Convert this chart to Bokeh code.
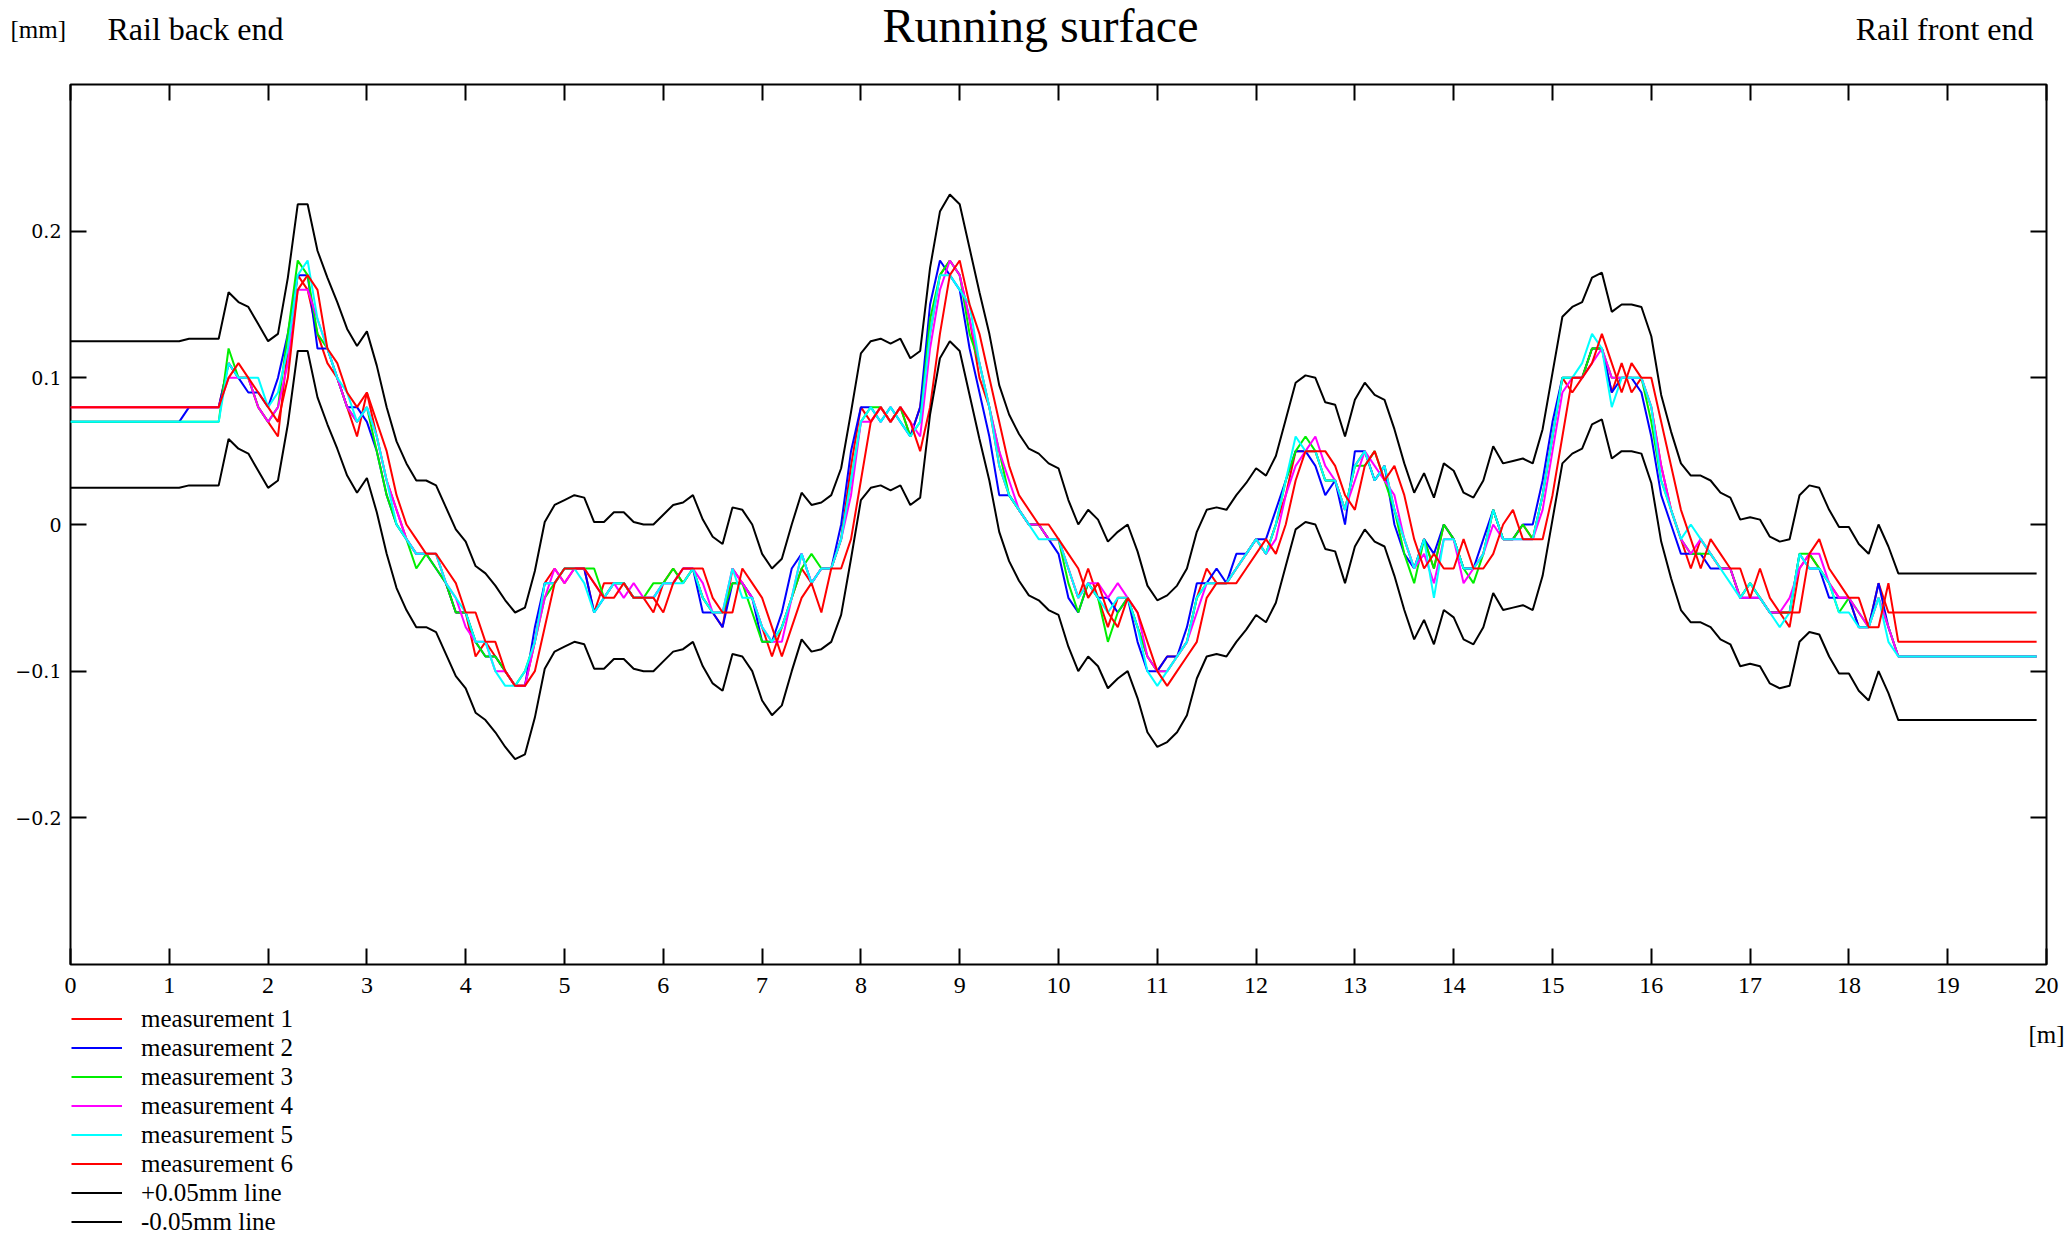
import numpy as np
from bokeh.plotting import figure
from bokeh.layouts import column, row
from bokeh.models import (Range1d, FixedTicker, LinearAxis, Label, Legend,
                          LegendItem, CustomJSTickFormatter)
from bokeh.embed import file_html
from bokeh.resources import INLINE

# positions along the rail [m]
positions_m = [round(i * 0.1, 1) for i in range(186)] + [19.9]

# measured heights in hundredths of a millimetre
meas1 = [8, 8, 8, 8, 8, 8, 8, 8, 8, 8,
         8, 8, 8, 8, 8, 8, 11, 10, 10, 8,
         7, 6, 12, 17, 16, 13, 11, 10, 8, 6,
         9, 6, 3, 1, -1, -2, -2, -2, -4, -6,
         -6, -9, -8, -9, -10, -11, -11, -8, -4, -3,
         -4, -3, -3, -6, -4, -4, -4, -5, -5, -6,
         -4, -3, -4, -3, -5, -6, -7, -3, -4, -5,
         -7, -9, -7, -5, -3, -4, -3, -3, -1, 4,
         8, 7, 8, 7, 8, 6, 8, 13, 17, 18,
         17, 14, 10, 8, 4, 2, 1, 0, 0, -1,
         -1, -3, -5, -3, -5, -7, -5, -5, -7, -9,
         -10, -9, -9, -8, -5, -3, -4, -4, -3, -2,
         -1, -2, 0, 2, 5, 5, 5, 3, 3, 1,
         4, 5, 3, 4, 1, -1, -3, -1, -3, 0,
         -1, -3, -3, -2, 1, -1, -1, 0, -1, 2,
         6, 10, 9, 10, 12, 12, 9, 11, 9, 10,
         8, 4, 1, -1, -3, -1, -2, -3, -3, -5,
         -4, -5, -6, -6, -7, -3, -2, -3, -4, -5,
         -5, -7, -7, -4, -6, -6,
         -6]

meas2 = [7, 7, 7, 7, 7, 7, 7, 7, 7, 7,
         7, 7, 8, 8, 8, 8, 11, 10, 9, 9,
         8, 10, 13, 17, 17, 12, 12, 10, 8, 8,
         7, 5, 2, 0, -1, -2, -2, -3, -4, -6,
         -6, -8, -9, -9, -10, -11, -11, -7, -4, -4,
         -3, -3, -3, -6, -5, -4, -4, -5, -5, -5,
         -4, -4, -3, -3, -6, -6, -7, -4, -4, -5,
         -8, -8, -6, -3, -2, -4, -3, -3, 0, 5,
         8, 8, 7, 8, 7, 6, 8, 15, 18, 17,
         16, 12, 9, 6, 2, 2, 1, 0, 0, -1,
         -2, -5, -6, -4, -5, -5, -6, -5, -8, -10,
         -10, -9, -9, -7, -4, -4, -3, -4, -2, -2,
         -1, -1, 1, 3, 5, 5, 4, 2, 3, 0,
         5, 5, 3, 4, 0, -2, -3, -1, -2, 0,
         -1, -3, -3, -1, 1, -1, -1, 0, 0, 3,
         7, 10, 10, 10, 12, 12, 9, 10, 10, 9,
         6, 2, 0, -2, -2, -2, -3, -3, -3, -5,
         -5, -5, -6, -6, -6, -2, -3, -3, -5, -5,
         -5, -7, -7, -4, -7, -9,
         -9]

meas3 = [7, 7, 7, 7, 7, 7, 7, 7, 7, 7,
         7, 7, 7, 7, 7, 7, 12, 10, 10, 8,
         7, 8, 13, 18, 17, 13, 12, 10, 8, 7,
         8, 5, 2, 0, -1, -3, -2, -3, -4, -6,
         -6, -8, -9, -9, -10, -11, -10, -8, -5, -4,
         -3, -3, -3, -3, -5, -4, -4, -5, -5, -4,
         -4, -3, -4, -3, -5, -6, -6, -4, -4, -6,
         -8, -8, -7, -5, -3, -2, -3, -3, -1, 3,
         7, 8, 8, 7, 8, 6, 7, 14, 17, 18,
         17, 13, 11, 8, 5, 2, 1, 0, 0, -1,
         -1, -4, -6, -4, -5, -8, -6, -5, -7, -9,
         -10, -10, -9, -8, -5, -4, -4, -4, -3, -2,
         -1, -2, 0, 3, 5, 6, 5, 3, 3, 1,
         4, 4, 5, 3, 1, -2, -4, -1, -3, 0,
         -1, -3, -4, -2, 1, -1, -1, 0, -1, 2,
         6, 10, 10, 10, 12, 12, 10, 10, 10, 10,
         7, 3, 1, -1, -2, -2, -2, -3, -3, -5,
         -4, -5, -6, -6, -6, -2, -2, -3, -4, -6,
         -5, -6, -7, -5, -7, -9,
         -9]

meas4 = [8, 8, 8, 8, 8, 8, 8, 8, 8, 8,
         8, 8, 8, 8, 8, 8, 10, 10, 10, 8,
         7, 8, 11, 16, 16, 14, 12, 10, 8, 7,
         8, 6, 3, 1, -1, -2, -2, -2, -4, -5,
         -7, -8, -8, -10, -10, -11, -11, -8, -5, -3,
         -4, -3, -3, -4, -5, -4, -5, -4, -5, -5,
         -4, -4, -3, -3, -4, -6, -6, -3, -4, -5,
         -7, -8, -8, -5, -2, -4, -3, -3, -1, 2,
         7, 7, 8, 7, 8, 7, 6, 12, 16, 18,
         17, 14, 11, 8, 5, 3, 1, 0, 0, -1,
         -1, -3, -5, -4, -4, -5, -4, -5, -6, -9,
         -10, -10, -9, -8, -6, -4, -4, -4, -3, -2,
         -1, -2, -1, 2, 4, 5, 6, 4, 3, 1,
         3, 5, 4, 3, 2, -1, -3, -2, -4, -1,
         -1, -4, -3, -2, 0, -1, -1, -1, -1, 1,
         5, 9, 10, 10, 11, 12, 10, 10, 10, 10,
         8, 4, 1, -1, -2, -1, -2, -3, -3, -5,
         -5, -5, -6, -6, -5, -3, -2, -2, -4, -5,
         -5, -6, -7, -5, -7, -9,
         -9]

meas5 = [7, 7, 7, 7, 7, 7, 7, 7, 7, 7,
         7, 7, 7, 7, 7, 7, 11, 10, 10, 10,
         8, 9, 12, 17, 18, 14, 12, 10, 9, 7,
         8, 6, 3, 0, -1, -2, -2, -2, -4, -5,
         -6, -8, -8, -10, -11, -11, -10, -8, -4, -4,
         -3, -3, -4, -6, -5, -4, -4, -5, -5, -5,
         -4, -4, -4, -3, -5, -6, -6, -3, -5, -5,
         -7, -8, -7, -5, -2, -4, -3, -3, -1, 3,
         7, 8, 7, 8, 7, 6, 7, 13, 17, 17,
         16, 15, 11, 8, 4, 2, 1, 0, -1, -1,
         -1, -3, -5, -4, -5, -6, -5, -5, -7, -10,
         -11, -10, -9, -8, -5, -4, -4, -4, -3, -2,
         -1, -2, 0, 3, 6, 5, 5, 3, 3, 1,
         4, 5, 3, 4, 1, -1, -3, -1, -5, -1,
         -1, -3, -3, -2, 1, -1, -1, -1, -1, 2,
         6, 10, 10, 11, 13, 12, 8, 10, 10, 10,
         8, 3, 1, -1, 0, -1, -2, -3, -4, -5,
         -4, -5, -6, -7, -6, -2, -3, -3, -4, -6,
         -6, -7, -7, -5, -8, -9,
         -9]

meas6 = [8, 8, 8, 8, 8, 8, 8, 8, 8, 8,
         8, 8, 8, 8, 8, 8, 10, 11, 10, 9,
         8, 7, 10, 16, 17, 16, 12, 11, 9, 8,
         9, 7, 5, 2, 0, -1, -2, -2, -3, -4,
         -6, -6, -8, -8, -10, -11, -11, -10, -7, -4,
         -3, -3, -3, -4, -5, -5, -4, -5, -5, -5,
         -6, -4, -3, -3, -3, -5, -6, -6, -3, -4,
         -5, -7, -9, -7, -5, -4, -6, -3, -3, -1,
         3, 7, 8, 7, 8, 7, 5, 8, 13, 17,
         18, 15, 13, 10, 7, 4, 2, 1, 0, 0,
         -1, -2, -3, -5, -4, -6, -7, -5, -6, -8,
         -10, -11, -10, -9, -8, -5, -4, -4, -4, -3,
         -2, -1, -2, 0, 3, 5, 5, 5, 4, 2,
         1, 4, 5, 3, 4, 2, -1, -3, -2, -3,
         -3, -1, -3, -3, -2, 0, 1, -1, -1, -1,
         2, 6, 10, 10, 11, 13, 11, 9, 11, 10,
         10, 7, 4, 1, -1, -3, -1, -2, -3, -3,
         -5, -3, -5, -6, -6, -6, -2, -1, -3, -4,
         -5, -5, -7, -7, -4, -8,
         -8]

series_names = ["measurement 1", "measurement 2", "measurement 3",
                "measurement 4", "measurement 5", "measurement 6"]
series_colors = ["#ff0000", "#0000ff", "#00ee00", "#ff00ff", "#00ffff", "#ff0000"]
series_values = [meas1, meas2, meas3, meas4, meas5, meas6]
band_names = ["+0.05mm line", "-0.05mm line"]
band_offset = 0.05  # mm

x_ticks = list(range(0, 21))
y_ticks = [-0.2, -0.1, 0.0, 0.1, 0.2]

values_mm = np.array(series_values, dtype=float) / 100.0
mean_mm = values_mm.mean(axis=0)
upper_mm = mean_mm + band_offset
lower_mm = mean_mm - band_offset

SERIF = "Liberation Serif"
W = 2068
HEAD_H, MAIN_H = 80, 925
FOOT_H = 1236 - HEAD_H - MAIN_H


def blank(height):
    f = figure(width=W, height=height, output_backend="svg", toolbar_location=None,
               x_range=Range1d(0, 1), y_range=Range1d(1, 2),
               x_axis_type=None, y_axis_type=None, min_border=0,
               min_border_left=0, min_border_right=0,
               min_border_top=0, min_border_bottom=0)
    f.outline_line_color = None
    f.background_fill_color = "white"
    f.border_fill_color = "white"
    return f


def lab(f, x, y, text, size, align="left"):
    f.add_layout(Label(x=x, y=y, x_units="screen", y_units="screen", text=text,
                       text_font=SERIF, text_font_size=size, text_color="black",
                       text_align=align, text_baseline="alphabetic"))


# ---- header ----
head = blank(HEAD_H)
lab(head, 1040, 55, "Running surface", "48px", "center")
lab(head, 10, 51, "[mm]", "25px")
lab(head, 107, 52, "Rail back end", "32px")
lab(head, 2033, 52, "Rail front end", "32px", "right")

# ---- main plot ----
p = figure(width=W, height=MAIN_H, output_backend="svg", toolbar_location=None,
           x_range=Range1d(0, 20), y_range=Range1d(-0.3, 0.3),
           min_border_left=70, min_border_right=22,
           min_border_top=4, min_border_bottom=41)
p.background_fill_color = "white"
p.border_fill_color = "white"
p.outline_line_color = "black"
p.outline_line_width = 2
p.xgrid.visible = False
p.ygrid.visible = False

xa = p.xaxis[0]
xa.ticker = FixedTicker(ticks=x_ticks)
xa.axis_line_color = None
xa.major_tick_in = 16
xa.major_tick_out = 0
xa.major_tick_line_width = 2
xa.minor_tick_line_color = None
xa.major_label_text_font = SERIF
xa.major_label_text_font_size = "24px"
xa.major_label_text_color = "black"
xa.major_label_standoff = 13

ya = p.yaxis[0]
ya.ticker = FixedTicker(ticks=y_ticks)
ya.axis_line_color = None
ya.major_tick_in = 16
ya.major_tick_out = 0
ya.major_tick_line_width = 2
ya.minor_tick_line_color = None
ya.major_label_text_font = "DejaVu Serif"
ya.major_label_text_font_size = "19px"
ya.major_label_text_color = "black"
ya.major_label_standoff = 9
ya.formatter = CustomJSTickFormatter(code="""
    if (Math.abs(tick) < 1e-9) { return "0"; }
    return tick < 0 ? "\\u2212" + (-tick).toFixed(1) : tick.toFixed(1);
""")

empty_fmt = CustomJSTickFormatter(code="return '';")
top = LinearAxis(ticker=FixedTicker(ticks=x_ticks), axis_line_color=None,
                 major_tick_in=16, major_tick_out=0, major_tick_line_width=2,
                 minor_tick_line_color=None, formatter=empty_fmt,
                 major_label_standoff=0, major_label_text_font_size="1px")
p.add_layout(top, "above")
right = LinearAxis(ticker=FixedTicker(ticks=y_ticks), axis_line_color=None,
                   major_tick_in=16, major_tick_out=0, major_tick_line_width=2,
                   minor_tick_line_color=None, formatter=empty_fmt,
                   major_label_standoff=0, major_label_text_font_size="1px")
p.add_layout(right, "right")

for color, vals in zip(series_colors, values_mm):
    p.line(positions_m, list(vals), line_color=color, line_width=2)
p.line(positions_m, list(upper_mm), line_color="black", line_width=2)
p.line(positions_m, list(lower_mm), line_color="black", line_width=2)

# ---- footer: legend and unit ----
# legend proxies reuse the data; the footer's y range keeps them out of view
foot = blank(FOOT_H)
items = []
legend_values = list(values_mm) + [upper_mm, lower_mm]
for name, color, vals in zip(series_names + band_names,
                             series_colors + ["black", "black"], legend_values):
    r = foot.line(positions_m, list(vals), line_color=color, line_width=2)
    items.append(LegendItem(label=name, renderers=[r]))
ROW = 29
legend = Legend(items=items, location=(71, 0), orientation="vertical",
                glyph_width=51, glyph_height=ROW, label_height=ROW,
                label_standoff=19, spacing=0, padding=0, margin=0,
                label_text_font=SERIF, label_text_font_size="25px",
                label_text_color="black",
                border_line_color=None, background_fill_alpha=0)
foot.add_layout(legend)
lab(foot, 2064, FOOT_H - 29, "[m]", "25px", "right")

layout = column(row(head), row(p), row(foot), spacing=0)
open("out.html", "w").write(file_html(layout, INLINE))
